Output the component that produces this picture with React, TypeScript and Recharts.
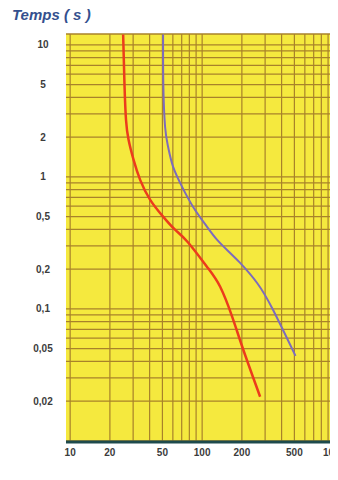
import { LineChart, Line, XAxis, YAxis, CartesianGrid, ReferenceLine } from "recharts";

// Size of the picture
const WIDTH = 338;
const HEIGHT = 480;

// Axis ranges (log scales)
const X_DOMAIN = [9.3, 1070];
const Y_DOMAIN = [0.0098, 12.1];

// Tick labels
const X_TICKS = [10, 20, 50, 100, 200, 500, 1000];
const Y_TICKS = [0.02, 0.05, 0.1, 0.2, 0.5, 1, 2, 5, 10];

// Log paper grid
const MANTISSAS = [1, 2, 3, 4, 5, 6, 7, 8, 9];
const X_DECADES = [10, 100, 1000];
const Y_DECADES = [0.01, 0.1, 1, 10];

// Current (A) / time (s) for the two curves
const redCurve = [
  { x: 25.2, y: 12 },
  { x: 25.8, y: 5 },
  { x: 26.5, y: 2.7 },
  { x: 27.7, y: 1.91 },
  { x: 30.2, y: 1.35 },
  { x: 33.9, y: 0.95 },
  { x: 40.4, y: 0.67 },
  { x: 50.6, y: 0.5 },
  { x: 62, y: 0.4 },
  { x: 78, y: 0.32 },
  { x: 109, y: 0.208 },
  { x: 137, y: 0.147 },
  { x: 169, y: 0.087 },
  { x: 205, y: 0.049 },
  { x: 275, y: 0.0216 },
];

const purpleCurve = [
  { x: 50.6, y: 12 },
  { x: 50.8, y: 5 },
  { x: 52.4, y: 2.39 },
  { x: 55.2, y: 1.69 },
  { x: 60.3, y: 1.19 },
  { x: 70.5, y: 0.84 },
  { x: 85.5, y: 0.592 },
  { x: 109, y: 0.418 },
  { x: 130, y: 0.333 },
  { x: 160, y: 0.27 },
  { x: 194, y: 0.223 },
  { x: 261, y: 0.157 },
  { x: 345, y: 0.098 },
  { x: 510, y: 0.044 },
];

const GRID_COLOR = "#a8822a";

const gridX = X_DECADES.flatMap((d) => MANTISSAS.map((m) => m * d)).filter(
  (v) => v >= X_DOMAIN[0] && v <= X_DOMAIN[1]
);
const gridY = Y_DECADES.flatMap((d) => MANTISSAS.map((m) => m * d)).filter(
  (v) => v >= Y_DOMAIN[0] && v <= Y_DOMAIN[1]
);

const fmt = (v: number) => String(v).replace(".", ",");

function XTick(props: any) {
  const { x, payload } = props;
  return (
    <text
      x={x}
      y={456}
      textAnchor="middle"
      fontFamily="Liberation Sans, Arial, sans-serif"
      fontSize={10}
      fontWeight="bold"
      fill="#3c3c3c"
    >
      {fmt(payload.value)}
    </text>
  );
}

function YTick(props: any) {
  const { y, payload } = props;
  return (
    <text
      x={43}
      y={y}
      dy="0.35em"
      textAnchor="middle"
      fontFamily="Liberation Sans, Arial, sans-serif"
      fontSize={10}
      fontWeight="bold"
      fill="#3c3c3c"
    >
      {fmt(payload.value)}
    </text>
  );
}

export default function App() {
  return (
    <div style={{ position: "relative", width: WIDTH, height: HEIGHT, margin: -8, background: "#fff" }}>
      <div
        style={{
          position: "absolute",
          left: 12,
          top: 6,
          fontFamily: "Liberation Sans, Arial, sans-serif",
          fontSize: 15,
          fontWeight: "bold",
          fontStyle: "italic",
          color: "#34508e",
        }}
      >
        Temps ( s )
      </div>
      <LineChart
        width={WIDTH}
        height={HEIGHT}
        margin={{ top: 34, right: 0, bottom: 0, left: 0 }}
      >
        <CartesianGrid fill="#f5e93e" stroke="none" horizontal={false} vertical={false} />
        <XAxis
          type="number"
          dataKey="x"
          scale="log"
          domain={X_DOMAIN}
          allowDataOverflow
          ticks={X_TICKS}
          tick={<XTick />}
          tickLine={false}
          axisLine={{ stroke: "#1e4a4c", strokeWidth: 3 }}
          height={38}
          interval={0}
        />
        <YAxis
          type="number"
          dataKey="y"
          scale="log"
          domain={Y_DOMAIN}
          allowDataOverflow
          ticks={Y_TICKS}
          tick={<YTick />}
          tickLine={false}
          axisLine={false}
          width={66}
          interval={0}
        />
        {gridX.map((v) => (
          <ReferenceLine key={`gx-${v}`} x={v} stroke={GRID_COLOR} strokeWidth={1.2} />
        ))}
        {gridY.map((v) => (
          <ReferenceLine key={`gy-${v}`} y={v} stroke={GRID_COLOR} strokeWidth={1.2} />
        ))}
        <ReferenceLine y={Y_DOMAIN[1]} stroke={GRID_COLOR} strokeWidth={1.5} />
        <Line
          data={redCurve}
          dataKey="y"
          type="natural"
          stroke="#ec3c1c"
          strokeWidth={2.5}
          dot={false}
          isAnimationActive={false}
        />
        <Line
          data={purpleCurve}
          dataKey="y"
          type="natural"
          stroke="#7d6cbc"
          strokeWidth={2}
          dot={false}
          isAnimationActive={false}
        />
      </LineChart>
    </div>
  );
}
